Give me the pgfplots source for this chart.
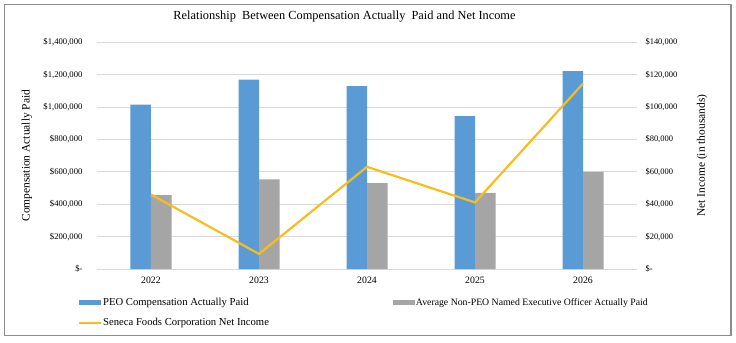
\documentclass[border=0pt]{standalone}
\usepackage{pgfplots}
\pgfplotsset{compat=1.18}
\usepackage{fontspec}
\setmainfont{Liberation Serif}
\definecolor{cblue}{HTML}{5B9BD5}
\definecolor{cgray}{HTML}{A5A5A5}
\definecolor{cgold}{HTML}{F5BE1E}
\definecolor{cgrid}{HTML}{D9D9D9}
\definecolor{cframe}{HTML}{8C8C8C}
\begin{document}
\begin{tikzpicture}[x=1bp,y=1bp]
\useasboundingbox (-97,-73) rectangle (639,269);
\draw[cframe, line width=1.5bp] (-92.5,-66.5) rectangle (634,264.5);
\node[font=\fontsize{12.4}{14}\selectfont] at (247.5,252.3) {Relationship\ \ Between Compensation Actually\ \ Paid and Net Income};
\begin{axis}[
  at={(0,0)}, anchor=south west,
  scale only axis, width=540bp, height=226.7bp,
  xmin=-0.5, xmax=4.5, ymin=0, ymax=1400000,
  axis line style={draw=none},
  major tick length=0pt,
  scaled ticks=false,
  ymajorgrids, grid style={cgrid, line width=0.8bp},
  xtick={0,1,2,3,4}, xticklabels={2022,2023,2024,2025,2026},
  ytick={0,200000,400000,600000,800000,1000000,1200000,1400000},
  yticklabels={{\$-},{\$200,000},{\$400,000},{\$600,000},{\$800,000},{\$1,000,000},{\$1,200,000},{\$1,400,000}},
  xticklabel style={font=\fontsize{9.8}{11}\selectfont, yshift=-4bp},
  yticklabel style={font=\fontsize{8.7}{10}\selectfont, xshift=-11bp},
  ylabel={Compensation Actually Paid},
  ylabel style={font=\fontsize{11.5}{13}\selectfont, at={(-70bp,0.5)}, anchor=center, rotate=0},
  ybar=0pt, bar width=20.5bp,
  legend columns=2,
  legend style={at={(-19bp,-28bp)}, anchor=north west, draw=none, fill=none, inner sep=0pt,
    font=\fontsize{10.7}{12}\selectfont, row sep=9bp,
    nodes={inner sep=1bp},
    /tikz/every even column/.append style={column sep=123bp}},
  legend cell align=left,
  clip=false,
]
\addplot[fill=cblue, draw=none, legend image code/.code={\fill[cblue] (0bp,-2.5bp) rectangle (22bp,2.5bp);}]
  coordinates {(0,1015000) (1,1170000) (2,1130000) (3,944000) (4,1222000)};
\addlegendentry{PEO Compensation Actually Paid}
\addplot[fill=cgray, draw=none, legend image code/.code={\fill[cgray] (0bp,-2.5bp) rectangle (22bp,2.5bp);}]
  coordinates {(0,456000) (1,553000) (2,530000) (3,470000) (4,600000)};
\addlegendentry{\fontsize{9.8}{12}\selectfont Average Non-PEO Named Executive Officer Actually Paid}
\addlegendimage{color=cgold, line width=2bp, legend image code/.code={\draw[cgold, line width=2bp] (0bp,0bp) -- (22bp,0bp);}}
\addlegendentry{Seneca Foods Corporation Net Income}
\end{axis}
\begin{axis}[
  at={(0,0)}, anchor=south west,
  scale only axis, width=540bp, height=226.7bp,
  xmin=-0.5, xmax=4.5, ymin=0, ymax=140000,
  axis line style={draw=none},
  axis y line*=right, axis x line=none,
  major tick length=0pt,
  scaled ticks=false,
  ytick={0,20000,40000,60000,80000,100000,120000,140000},
  yticklabels={{\$-},{\$20,000},{\$40,000},{\$60,000},{\$80,000},{\$100,000},{\$120,000},{\$140,000}},
  yticklabel style={font=\fontsize{8.5}{10}\selectfont, anchor=west, xshift=5bp},
  ylabel={Net Income (in thousands)},
  ylabel style={font=\fontsize{11.5}{13}\selectfont, at={(605bp,0.5)}, anchor=center, rotate=0},
  clip=false,
]
\addplot[cgold, line width=2.2bp, mark=none]
  coordinates {(0,46000) (1,9300) (2,63100) (3,41100) (4,114500)};
\end{axis}
\end{tikzpicture}
\end{document}
